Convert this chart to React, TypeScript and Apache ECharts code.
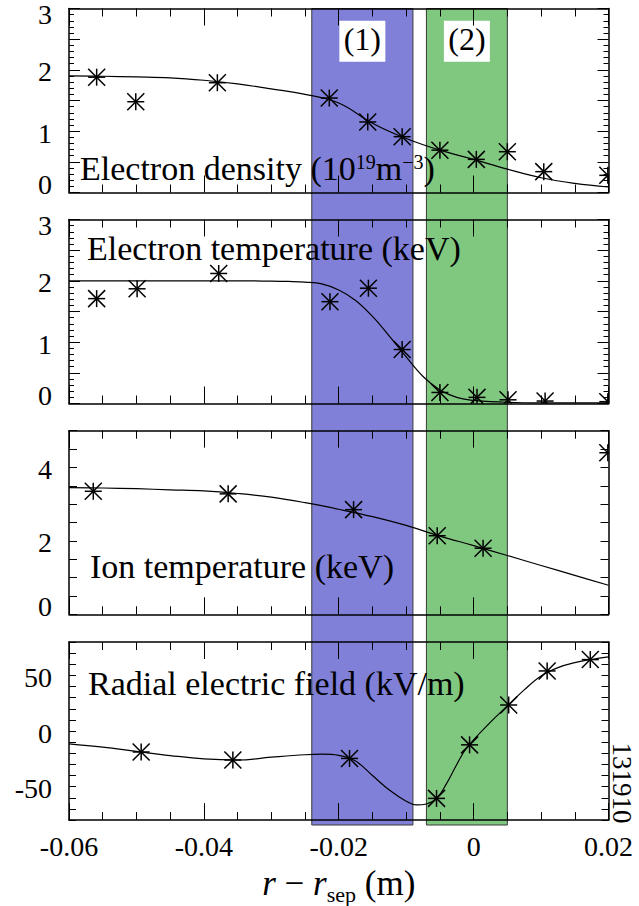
import React, { useEffect, useRef } from 'react';
import * as echarts from 'echarts';

// ---------------- data ----------------
const X_MIN = -0.06;
const X_MAX = 0.02;

// Electron density (10^19 m^-3)
const neX = [-0.0559, -0.0501, -0.038, -0.0214, -0.0157, -0.0106, -0.005, 0.0004, 0.005, 0.0104, 0.0199];
const neY = [1.88, 1.48, 1.79, 1.54, 1.15, 0.91, 0.69, 0.54, 0.665, 0.34, 0.28];
const neFitX = [-0.06, -0.055, -0.05, -0.045, -0.04, -0.035, -0.03, -0.025, -0.02, -0.015, -0.01, -0.005, 0, 0.005, 0.01, 0.015, 0.02];
const neFitY = [1.9, 1.895, 1.885, 1.87, 1.83, 1.77, 1.69, 1.6, 1.46, 1.13, 0.88, 0.69, 0.54, 0.38, 0.24, 0.15, 0.09];

// Electron temperature (keV)
const teX = [-0.0559, -0.0499, -0.0378, -0.0213, -0.0156, -0.0106, -0.005, 0.0005, 0.0051, 0.0106, 0.0199];
const teY = [1.71, 1.87, 2.12, 1.66, 1.88, 0.88, 0.18, 0.1, 0.06, 0.04, 0.03];
const teFitX = [-0.06, -0.05, -0.04, -0.035, -0.03, -0.0275, -0.025, -0.0225, -0.02, -0.0175, -0.015, -0.0125, -0.01, -0.0075, -0.005, -0.0025, 0, 0.0025, 0.005, 0.01, 0.015, 0.02];
const teFitY = [2.0, 2.0, 2.0, 2.0, 1.995, 1.99, 1.98, 1.95, 1.85, 1.68, 1.42, 1.1, 0.76, 0.44, 0.22, 0.1, 0.05, 0.03, 0.02, 0.01, 0.01, 0.01];

// Ion temperature (keV)
const tiX = [-0.0564, -0.0364, -0.0178, -0.0054, 0.0014, 0.0199];
const tiY = [3.35, 3.28, 2.85, 2.14, 1.8, 4.4];
const tiFitX = [-0.06, -0.055, -0.05, -0.045, -0.04, -0.035, -0.03, -0.025, -0.02, -0.015, -0.01, -0.005, 0, 0.005, 0.01, 0.015, 0.02];
const tiFitY = [3.45, 3.44, 3.42, 3.39, 3.36, 3.29, 3.19, 3.04, 2.86, 2.66, 2.42, 2.13, 1.87, 1.6, 1.33, 1.06, 0.79];

// Radial electric field (kV/m)
const erX = [-0.0493, -0.0357, -0.0184, -0.0055, -0.0006, 0.0052, 0.0109, 0.0173];
const erY = [-18.8, -26, -24.6, -60.5, -12.4, 23.4, 54, 64.2];
const erFitX = [-0.06, -0.055, -0.05, -0.045, -0.04, -0.035, -0.03, -0.025, -0.0225, -0.02, -0.0175, -0.015, -0.0125, -0.01, -0.0085, -0.007, -0.0055, -0.004, -0.0025, -0.001, 0.0025, 0.005, 0.0075, 0.01, 0.0125, 0.015, 0.0175, 0.02];
const erFitY = [-11.5, -14.5, -18.3, -22, -25, -26, -23.5, -21.3, -20.8, -21.8, -27, -40, -53, -63, -66.3, -65.5, -60.5, -47, -30, -15, 8, 22.5, 37, 49.5, 57, 61.5, 64.3, 66.6];

// shaded regions
const bandStart = [-0.024, -0.007];
const bandEnd = [-0.009, 0.005];
const bandLabels = ['(1)', '(2)'];
const bandColors = ['#8080d8', '#80c880'];

const panelTitles = [
  'Electron density (10{sup|19}m{sup|\u22123})',
  'Electron temperature (keV)',
  'Ion temperature (keV)',
  'Radial electric field (kV/m)',
];
const xAxisTitle = '{i|r} \u2212 {i|r}{sub|sep} (m)';
const shotNumber = '131910';

// ---------------- layout / style ----------------
const FONT = 'Liberation Serif';
const BLACK = '#000';
const GRID_LEFT = 69;
const GRID_WIDTH = 539.5;

const panels = [
  { top: 8.5, height: 184, min: 0, max: 3, interval: 0.5, minor: 5, majorLen: 11, minorLen: 5, labelStep: 1, mx: neX, my: neY, fx: neFitX, fy: neFitY, titleLeft: 80, titleTop: 151.7 },
  { top: 219.5, height: 184, min: 0, max: 3, interval: 0.5, minor: 5, majorLen: 11, minorLen: 5, labelStep: 1, mx: teX, my: teY, fx: teFitX, fy: teFitY, titleLeft: 87, titleTop: 231 },
  { top: 430.7, height: 183.6, min: 0, max: 5, interval: 0.5, minor: 0, majorLen: 8, minorLen: 0, labelStep: 2, mx: tiX, my: tiY, fx: tiFitX, fy: tiFitY, titleLeft: 90, titleTop: 549.3 },
  { top: 642, height: 183, min: -80, max: 80, interval: 10, minor: 0, majorLen: 7, minorLen: 0, labelStep: 50, mx: erX, my: erY, fx: erFitX, fy: erFitY, titleLeft: 88, titleTop: 666.7 },
];

const zip = (xs: number[], ys: number[]) => xs.map((x, i) => [x, ys[i]]);

// asterisk: four strokes through the centre (unit half-lengths)
const STAR_ARMS = [
  [0, -1, 0, 1],
  [-1, -1, 1, 1],
  [-1, 1, 1, -1],
  [-1, 0, 1, 0],
];
const STAR_HALF = 8.5;

const lineStyle = { color: BLACK, width: 1.5 };
const tickStyle = { color: BLACK, width: 1 };

// clip a segment to a rectangle (Liang-Barsky)
function clipSeg(x1: number, y1: number, x2: number, y2: number, r: any) {
  let t0 = 0;
  let t1 = 1;
  const dx = x2 - x1;
  const dy = y2 - y1;
  const p = [-dx, dx, -dy, dy];
  const q = [x1 - r.x, r.x + r.width - x1, y1 - r.y, r.y + r.height - y1];
  for (let k = 0; k < 4; k++) {
    if (p[k] === 0) {
      if (q[k] < 0) return null;
    } else {
      const t = q[k] / p[k];
      if (p[k] < 0) {
        if (t > t1) return null;
        if (t > t0) t0 = t;
      } else {
        if (t < t0) return null;
        if (t < t1) t1 = t;
      }
    }
  }
  return [x1 + t0 * dx, y1 + t0 * dy, x1 + t1 * dx, y1 + t1 * dy];
}

function tickLabelRich() {
  const base = { fontFamily: FONT, fontSize: 28, color: BLACK };
  return {
    hi: { ...base, padding: [12, 0, 0, 0] },
    lo: { ...base, padding: [0, 0, 16, 0] },
    n: { ...base, padding: [4, 0, 0, 0] },
  };
}

function buildOption() {
  const grid: any[] = [];
  const xAxis: any[] = [];
  const yAxis: any[] = [];
  const series: any[] = [];
  const title: any[] = [];

  panels.forEach((p, i) => {
    grid.push({ left: GRID_LEFT, width: GRID_WIDTH, top: p.top, height: p.height, containLabel: false });
    const xBase = {
      gridIndex: i,
      type: 'value',
      min: X_MIN,
      max: X_MAX,
      interval: 0.02,
      z: 3,
      axisLine: { show: true, onZero: false, lineStyle },
      axisTick: { show: true, inside: true, length: 17, lineStyle: tickStyle },
      minorTick: { show: true, splitNumber: 4, length: 8, lineStyle: tickStyle },
      splitLine: { show: false },
      minorSplitLine: { show: false },
    };
    const isLast = i === panels.length - 1;
    xAxis.push({
      ...xBase,
      position: 'bottom',
      axisLabel: {
        show: isLast,
        margin: 12,
        fontFamily: FONT,
        fontSize: 28,
        color: BLACK,
        formatter: (v: number) => {
          const r = Math.round(v * 1000) / 1000;
          if (Math.abs(r) < 1e-9) return '0';
          return r.toFixed(2);
        },
      },
      ...(isLast
        ? {
            name: xAxisTitle,
            nameLocation: 'middle',
            nameGap: 45,
            nameTextStyle: {
              fontFamily: FONT,
              fontSize: 35,
              lineHeight: 35,
              color: BLACK,
              rich: {
                i: { fontFamily: FONT, fontSize: 35, lineHeight: 35, fontStyle: 'italic', color: BLACK },
                sub: { fontFamily: FONT, fontSize: 22, lineHeight: 22, padding: [22, 0, 0, 0], color: BLACK },
              },
            },
          }
        : {}),
    });
    xAxis.push({ ...xBase, position: 'top', axisLabel: { show: false } });

    const yBase = {
      gridIndex: i,
      type: 'value',
      min: p.min,
      max: p.max,
      interval: p.interval,
      z: 3,
      axisLine: { show: true, onZero: false, lineStyle },
      axisTick: { show: true, inside: true, length: p.majorLen, lineStyle: tickStyle },
      minorTick: { show: p.minor > 0, splitNumber: p.minor || 5, length: p.minorLen, lineStyle: tickStyle },
      splitLine: { show: false },
      minorSplitLine: { show: false },
    };
    yAxis.push({
      ...yBase,
      position: 'left',
      axisLabel: {
        show: true,
        margin: 17,
        fontFamily: FONT,
        fontSize: 28,
        color: BLACK,
        rich: tickLabelRich(),
        formatter: (v: number) => {
          const r = Math.round(v * 1000) / 1000;
          const q = r / p.labelStep;
          if (Math.abs(q - Math.round(q)) > 1e-6) return '';
          const s = String(r);
          if (r === p.max) return `{hi|${s}}`;
          if (r === p.min) return `{lo|${s}}`;
          return `{n|${s}}`;
        },
      },
    });
    yAxis.push({ ...yBase, position: 'right', axisLabel: { show: false } });

    series.push({
      type: 'line',
      xAxisIndex: 2 * i,
      yAxisIndex: 2 * i,
      data: zip(p.fx, p.fy),
      showSymbol: false,
      symbol: 'none',
      smooth: 0.4,
      clip: true,
      silent: true,
      z: 4,
      lineStyle: { color: BLACK, width: 1.2 },
    });
    series.push({
      type: 'custom',
      xAxisIndex: 2 * i,
      yAxisIndex: 2 * i,
      data: zip(p.mx, p.my),
      silent: true,
      z: 5,
      renderItem: (params: any, api: any) => {
        const pt = api.coord([api.value(0), api.value(1)]);
        const cs = params.coordSys;
        const children: any[] = [];
        STAR_ARMS.forEach((a) => {
          const seg = clipSeg(
            pt[0] + a[0] * STAR_HALF,
            pt[1] + a[1] * STAR_HALF,
            pt[0] + a[2] * STAR_HALF,
            pt[1] + a[3] * STAR_HALF,
            cs
          );
          if (seg) {
            children.push({
              type: 'line',
              shape: { x1: seg[0], y1: seg[1], x2: seg[2], y2: seg[3] },
              style: { stroke: BLACK, lineWidth: 1.5 },
            });
          }
        });
        return { type: 'group', children };
      },
    });

    title.push({
      text: panelTitles[i],
      left: p.titleLeft,
      top: p.titleTop,
      padding: 0,
      textStyle: {
        fontFamily: FONT,
        fontSize: 34,
        lineHeight: 34,
        fontWeight: 'normal',
        color: BLACK,
        rich: {
          sup: { fontFamily: FONT, fontSize: 20, lineHeight: 20, padding: [0, 0, 14, 0], color: BLACK },
        },
      },
    });
  });

  // full-height grid for the shaded regions
  const first = panels[0];
  const last = panels[panels.length - 1];
  grid.push({ left: GRID_LEFT, width: GRID_WIDTH, top: first.top, height: last.top + last.height - first.top });
  xAxis.push({ gridIndex: 4, type: 'value', min: X_MIN, max: X_MAX, show: false, splitLine: { show: false } });
  yAxis.push({ gridIndex: 4, type: 'value', min: 0, max: 1, show: false, splitLine: { show: false } });
  series.push({
    type: 'custom',
    xAxisIndex: 8,
    yAxisIndex: 8,
    z: 1,
    silent: true,
    data: bandStart.map((s, i) => [s, bandEnd[i], i]),
    renderItem: (params: any, api: any) => {
      const idx = params.dataIndex;
      const x0 = api.coord([api.value(0), 0])[0];
      const x1 = api.coord([api.value(1), 0])[0];
      const cs = params.coordSys;
      const cx = (x0 + x1) / 2;
      return {
        type: 'group',
        children: [
          {
            type: 'rect',
            shape: { x: x0, y: cs.y, width: x1 - x0, height: cs.height },
            style: { fill: bandColors[idx], stroke: '#3a3a3a', lineWidth: 1 },
          },
          {
            type: 'rect',
            shape: { x: cx - 23, y: cs.y + 12.2, width: 46, height: 41 },
            style: { fill: '#fff' },
          },
          {
            type: 'text',
            x: cx,
            y: cs.y + 30.2,
            style: {
              text: bandLabels[idx],
              fill: BLACK,
              fontFamily: FONT,
              fontSize: 32,
              align: 'center',
              verticalAlign: 'middle',
            },
          },
        ],
      };
    },
  });

  return {
    animation: false,
    backgroundColor: '#fff',
    grid,
    xAxis,
    yAxis,
    series,
    title,
    graphic: [
      {
        type: 'text',
        x: 622,
        y: 783,
        rotation: -Math.PI / 2,
        style: {
          text: shotNumber,
          fill: BLACK,
          fontFamily: FONT,
          fontSize: 27,
          align: 'center',
          verticalAlign: 'middle',
        },
      },
    ],
  };
}

export default function App() {
  const ref = useRef<HTMLDivElement>(null);
  useEffect(() => {
    const chart = echarts.init(ref.current as HTMLDivElement, null, { renderer: 'svg' });
    chart.setOption(buildOption() as any);
    return () => chart.dispose();
  }, []);
  return (
    <div
      ref={ref}
      style={{ position: 'absolute', left: 0, top: 0, width: 639, height: 906, background: '#fff' }}
    />
  );
}
